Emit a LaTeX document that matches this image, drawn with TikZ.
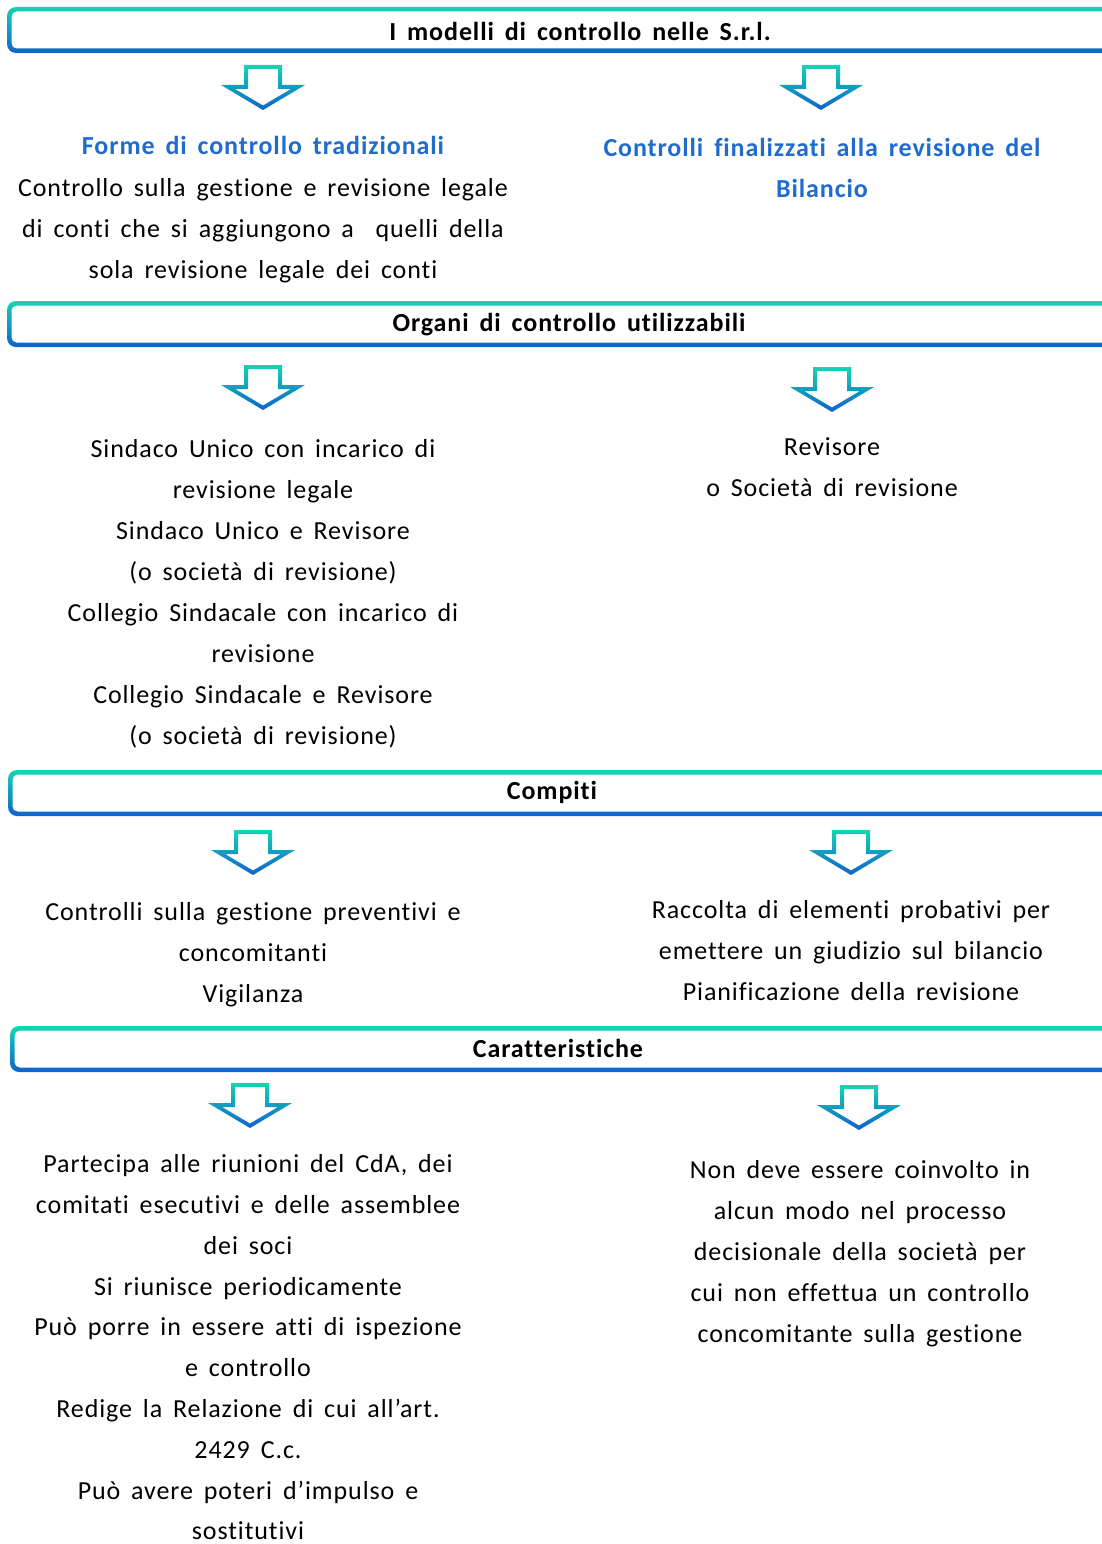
\documentclass[tikz,border=0pt]{standalone}
\usepackage{fontspec}
\setmainfont{Carlito}[LetterSpace=3.5,WordSpace=1.6,Ligatures=CommonOff]
\usepackage{tikz}

\definecolor{barteal}{RGB}{22,212,178}
\definecolor{barblue}{RGB}{14,98,206}
\definecolor{arrowmid}{RGB}{38,162,238}
\definecolor{headblue}{RGB}{31,108,206}

\tikzset{
  barshade/.style={top color=barteal, bottom color=barblue, even odd rule},
  arrowshade/.style={top color=barteal, middle color=arrowmid, bottom color=barblue, even odd rule},
  bartitle/.style={inner sep=0pt, font=\fontsize{26}{30}\selectfont\bfseries},
  bodytext/.style={anchor=north, inner sep=0pt, align=center, font=\fontsize{26}{41}\selectfont},
  headtext/.style={bodytext, text=headblue, font=\fontsize{26}{41}\selectfont\bfseries}
}

% title bar: #1 left x, #2 top y
\newcommand{\titlebar}[2]{%
  \shade[barshade] [rounded corners=9pt] (#1,#2) rectangle (1130,#2+46)
    [rounded corners=5pt] (#1+4.5,#2+4.5) rectangle (1125.5,#2+41.5);
}
% hollow down arrow: #1 centre x, #2 top y
\newcommand{\blockarrow}[2]{%
  \shade[arrowshade] (#1-19,#2) -- (#1+19,#2) -- (#1+19,#2+20) -- (#1+42,#2+20)
    -- (#1,#2+45) -- (#1-42,#2+20) -- (#1-19,#2+20) -- cycle
    (#1-15,#2+4) -- (#1+15,#2+4) -- (#1+15,#2+24) -- (#1+28,#2+24)
    -- (#1,#2+40.5) -- (#1-28,#2+24) -- (#1-15,#2+24) -- cycle;
}

\begin{document}
\begin{tikzpicture}[x=1pt,y=-1pt]
%\draw[help lines] (0,0) grid[step=100] (1102,1544);
\useasboundingbox (0,0) rectangle (1102,1544);
\clip (0,0) rectangle (1102,1544);

% Define the line height of the text blocks
\pgfmathsetmacro{\Lineup}{8.5};

% first bar: the models
\titlebar{7}{7}
\node[bartitle] (modelli) at (580,31) {I modelli di controllo nelle S.r.l.};
\blockarrow{263}{65}
\blockarrow{821}{65}
\node[headtext] (tradiz) at (263,145-\Lineup) {Forme di controllo tradizionali};
\node[bodytext] (tradiztxt) at (263,187-\Lineup) {Controllo sulla gestione e revisione legale\\
  di conti che si aggiungono a \ quelli della\\ sola revisione legale dei conti};
\node[headtext] (revbil) at (822,147-\Lineup) {Controlli finalizzati alla revisione del\\ Bilancio};

% second bar: the bodies
\titlebar{7}{301}
\node[bartitle] (organi) at (569,325) {Organi di controllo utilizzabili};
\blockarrow{263}{365}
\blockarrow{832}{367}
\node[bodytext] (organisx) at (263,448-\Lineup) {Sindaco Unico con incarico di\\ revisione legale\\
  Sindaco Unico e Revisore\\ (o società di revisione)\\ Collegio Sindacale con incarico di\\
  revisione\\ Collegio Sindacale e Revisore\\ (o società di revisione)};
\node[bodytext] (organidx) at (832,446-\Lineup) {Revisore\\ o Società di revisione};

% third bar: the tasks
\titlebar{8}{770}
\node[bartitle] (compiti) at (552,792) {Compiti};
\blockarrow{253}{830}
\blockarrow{851}{830}
\node[bodytext] (compitisx) at (253,911-\Lineup) {Controlli sulla gestione preventivi e\\
  concomitanti\\ Vigilanza};
\node[bodytext] (compitidx) at (851,909-\Lineup) {Raccolta di elementi probativi per\\
  emettere un giudizio sul bilancio\\ Pianificazione della revisione};

% fourth bar: the features
\titlebar{10}{1026}
\node[bartitle] (caratt) at (558,1048) {Caratteristiche};
\blockarrow{250}{1083}
\blockarrow{859}{1085}
\node[bodytext, font=\fontsize{26}{40.8}\selectfont] (carattsx) at (248,1163-\Lineup) {Partecipa alle riunioni del CdA, dei\\
  comitati esecutivi e delle assemblee\\ dei soci\\ Si riunisce periodicamente\\
  Può porre in essere atti di ispezione\\ e controllo\\ Redige la Relazione di cui all’art.\\
  2429 C.c.\\ Può avere poteri d’impulso e\\ sostitutivi};
\node[bodytext] (carattdx) at (860,1169-\Lineup) {Non deve essere coinvolto in\\
  alcun modo nel processo\\ decisionale della società per\\ cui non effettua un controllo\\
  concomitante sulla gestione};
\end{tikzpicture}
\end{document}
